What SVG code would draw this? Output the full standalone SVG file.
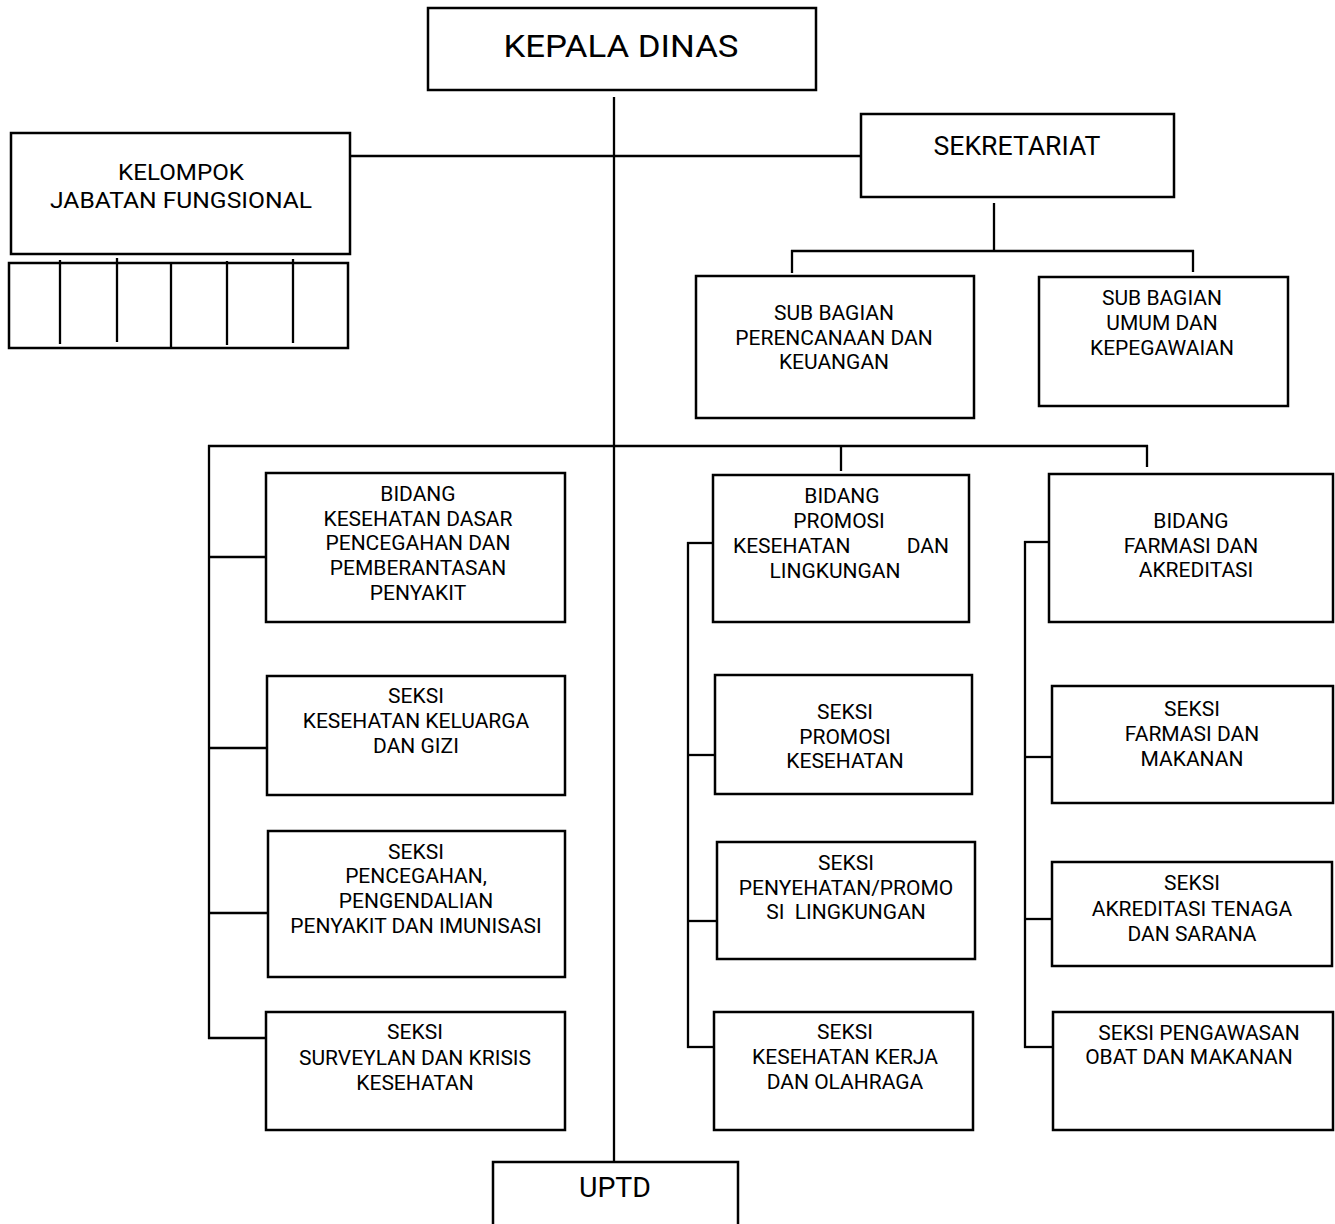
<svg xmlns="http://www.w3.org/2000/svg" width="1335" height="1224" viewBox="0 0 1335 1224">
<style>
rect.box{fill:#fff;stroke:#000;stroke-width:2.5}
.c line{stroke:#000;stroke-width:2.3;stroke-linecap:butt}
text{font-family:Roboto,"Liberation Sans",sans-serif;fill:#000;text-anchor:middle}
.t{font-size:21px}
.pre{white-space:pre}
</style>
<rect width="1335" height="1224" fill="#fff"/>
<g class="c" id="connectors">
<line x1="614" y1="97" x2="614" y2="1162"/>
<line x1="350" y1="156" x2="861" y2="156"/>
<line x1="994" y1="203" x2="994" y2="251"/>
<line x1="791" y1="251" x2="1194" y2="251"/>
<line x1="792" y1="250" x2="792" y2="273"/>
<line x1="1193" y1="250" x2="1193" y2="272"/>
<line x1="208" y1="446" x2="1148" y2="446"/>
<line x1="841" y1="445" x2="841" y2="471"/>
<line x1="1147" y1="445" x2="1147" y2="467"/>
<line x1="209" y1="445" x2="209" y2="1039"/>
<line x1="208" y1="557" x2="266" y2="557"/>
<line x1="208" y1="748" x2="267" y2="748"/>
<line x1="208" y1="913" x2="268" y2="913"/>
<line x1="208" y1="1038" x2="266" y2="1038"/>
<line x1="688" y1="542" x2="688" y2="1048"/>
<line x1="687" y1="543" x2="713" y2="543"/>
<line x1="687" y1="755" x2="715" y2="755"/>
<line x1="687" y1="921" x2="717" y2="921"/>
<line x1="687" y1="1047" x2="714" y2="1047"/>
<line x1="1025" y1="541" x2="1025" y2="1048"/>
<line x1="1024" y1="542" x2="1049" y2="542"/>
<line x1="1024" y1="757" x2="1052" y2="757"/>
<line x1="1024" y1="919" x2="1052" y2="919"/>
<line x1="1024" y1="1047" x2="1053" y2="1047"/>
</g>
<g id="kepala-dinas">
<rect class="box" x="428" y="8" width="388" height="82"/>
<text x="621" y="57" font-size="31" textLength="235" lengthAdjust="spacingAndGlyphs">KEPALA DINAS</text>
</g>
<g id="kelompok-jabatan-fungsional">
<rect class="box" x="11" y="133" width="339" height="121"/>
<text x="181" y="180" font-size="22.5" textLength="126" lengthAdjust="spacingAndGlyphs">KELOMPOK</text>
<text x="181" y="208" font-size="22.5" textLength="262" lengthAdjust="spacingAndGlyphs">JABATAN FUNGSIONAL</text>
</g>
<g id="jabatan-fungsional-grid" class="c">
<rect class="box" x="9" y="263" width="339" height="85"/>
<line x1="60" y1="260" x2="60" y2="344"/>
<line x1="117" y1="258" x2="117" y2="342"/>
<line x1="171" y1="263" x2="171" y2="348"/>
<line x1="227" y1="261" x2="227" y2="345"/>
<line x1="293" y1="259" x2="293" y2="343"/>
</g>
<g id="sekretariat">
<rect class="box" x="861" y="114" width="313" height="83"/>
<text x="1017" y="155" font-size="26" textLength="167" lengthAdjust="spacingAndGlyphs">SEKRETARIAT</text>
</g>
<g id="subbag-perencanaan" class="t">
<rect class="box" x="696" y="276" width="278" height="142"/>
<text x="834" y="320">SUB BAGIAN</text>
<text x="834" y="345">PERENCANAAN DAN</text>
<text x="834" y="369">KEUANGAN</text>
</g>
<g id="subbag-umum" class="t">
<rect class="box" x="1039" y="277" width="249" height="129"/>
<text x="1162" y="305">SUB BAGIAN</text>
<text x="1162" y="330">UMUM DAN</text>
<text x="1162" y="355">KEPEGAWAIAN</text>
</g>
<g id="bidang-kesehatan-dasar" class="t">
<rect class="box" x="266" y="473" width="299" height="149"/>
<text x="418" y="501">BIDANG</text>
<text x="418" y="526">KESEHATAN DASAR</text>
<text x="418" y="550">PENCEGAHAN DAN</text>
<text x="418" y="575">PEMBERANTASAN</text>
<text x="418" y="600">PENYAKIT</text>
</g>
<g id="seksi-kesga" class="t">
<rect class="box" x="267" y="676" width="298" height="119"/>
<text x="416" y="703">SEKSI</text>
<text x="416" y="728">KESEHATAN KELUARGA</text>
<text x="416" y="753">DAN GIZI</text>
</g>
<g id="seksi-pencegahan" class="t">
<rect class="box" x="268" y="831" width="297" height="146"/>
<text x="416" y="859">SEKSI</text>
<text x="416" y="883">PENCEGAHAN,</text>
<text x="416" y="908">PENGENDALIAN</text>
<text x="416" y="933">PENYAKIT DAN IMUNISASI</text>
</g>
<g id="seksi-surveylan" class="t">
<rect class="box" x="266" y="1012" width="299" height="118"/>
<text x="415" y="1039">SEKSI</text>
<text x="415" y="1065">SURVEYLAN DAN KRISIS</text>
<text x="415" y="1090">KESEHATAN</text>
</g>
<g id="bidang-promosi" class="t">
<rect class="box" x="713" y="475" width="256" height="147"/>
<text x="842" y="503">BIDANG</text>
<text x="839" y="528">PROMOSI</text>
<text x="733" y="553" style="text-anchor:start">KESEHATAN</text>
<text x="949" y="553" style="text-anchor:end">DAN</text>
<text x="835" y="578">LINGKUNGAN</text>
</g>
<g id="seksi-promosi-kesehatan" class="t">
<rect class="box" x="715" y="675" width="257" height="119"/>
<text x="845" y="719">SEKSI</text>
<text x="845" y="744">PROMOSI</text>
<text x="845" y="768">KESEHATAN</text>
</g>
<g id="seksi-penyehatan" class="t">
<rect class="box" x="717" y="842" width="258" height="117"/>
<text x="846" y="870">SEKSI</text>
<text x="846" y="895">PENYEHATAN/PROMO</text>
<text x="846" y="919" class="pre">SI  LINGKUNGAN</text>
</g>
<g id="seksi-kesja" class="t">
<rect class="box" x="714" y="1012" width="259" height="118"/>
<text x="845" y="1039">SEKSI</text>
<text x="845" y="1064">KESEHATAN KERJA</text>
<text x="845" y="1089">DAN OLAHRAGA</text>
</g>
<g id="bidang-farmasi" class="t">
<rect class="box" x="1049" y="474" width="284" height="148"/>
<text x="1191" y="528">BIDANG</text>
<text x="1191" y="553">FARMASI DAN</text>
<text x="1196" y="577">AKREDITASI</text>
</g>
<g id="seksi-farmasi-makanan" class="t">
<rect class="box" x="1052" y="686" width="281" height="117"/>
<text x="1192" y="716">SEKSI</text>
<text x="1192" y="741">FARMASI DAN</text>
<text x="1192" y="766">MAKANAN</text>
</g>
<g id="seksi-akreditasi" class="t">
<rect class="box" x="1052" y="862" width="280" height="104"/>
<text x="1192" y="890">SEKSI</text>
<text x="1192" y="916">AKREDITASI TENAGA</text>
<text x="1192" y="941">DAN SARANA</text>
</g>
<g id="seksi-pengawasan" class="t">
<rect class="box" x="1053" y="1012" width="280" height="118"/>
<text x="1199" y="1040">SEKSI PENGAWASAN</text>
<text x="1189" y="1064">OBAT DAN MAKANAN</text>
</g>
<g id="uptd">
<rect class="box" x="493" y="1162" width="245" height="80"/>
<text x="615" y="1197" font-size="28" textLength="72" lengthAdjust="spacingAndGlyphs">UPTD</text>
</g>
</svg>
